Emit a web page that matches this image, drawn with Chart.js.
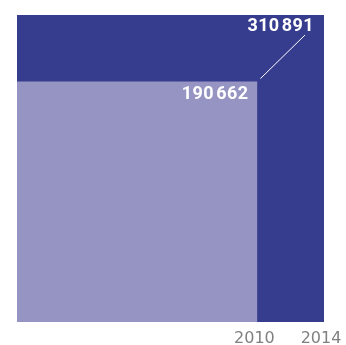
<!DOCTYPE html>
<html>
<head>
<meta charset="utf-8">
<script src="https://cdn.jsdelivr.net/npm/chart.js@4/dist/chart.umd.min.js"></script>
<style>
  html, body { margin: 0; padding: 0; background: #fff; }
  #wrap { width: 346px; height: 345px; }
</style>
</head>
<body>
<div id="wrap"><canvas id="squaresChart" width="346" height="345"></canvas></div>
<script>
const years = ['2010', '2014'];
const values = [190662, 310891];
const valueLabels = ['190\u200A662', '310\u200A891'];
const colors = ['#9594c2', '#363d8f'];

// side of each square is proportional to sqrt(value)
const sides = values.map(v => Math.sqrt(v));
const maxSide = Math.max(...sides);

const squareLabels = {
    id: 'squareLabels',
    afterDatasetsDraw(chart) {
        const { ctx, scales: { x, y } } = chart;
        ctx.save();
        ctx.fillStyle = '#fff';
        ctx.font = 'bold 18px Roboto';
        ctx.letterSpacing = '0.4px';
        ctx.textAlign = 'right';
        ctx.textBaseline = 'alphabetic';
        const offs = [[-9, 17.5], [-10, 16]];
        sides.forEach((s, i) => {
            const px = x.getPixelForValue(s);
            const py = y.getPixelForValue(s);
            ctx.fillText(valueLabels[i], px + offs[i][0], py + offs[i][1]);
        });
        // leader line from small square corner to the big label
        const cx = x.getPixelForValue(sides[0]);
        const cy = y.getPixelForValue(sides[0]);
        const bx = x.getPixelForValue(sides[1]);
        const by = y.getPixelForValue(sides[1]);
        ctx.strokeStyle = '#fff';
        ctx.lineWidth = 1;
        ctx.beginPath();
        ctx.moveTo(cx + 3, cy - 3);
        ctx.lineTo(bx - 19, by + 20);
        ctx.stroke();
        ctx.restore();
    }
};

const ctx = document.getElementById('squaresChart').getContext('2d');
new Chart(ctx, {
    type: 'scatter',
    data: {
        datasets: sides.map((s, i) => ({
            label: years[i],
            data: [{ x: 0, y: s }, { x: s, y: s }],
            showLine: true,
            fill: 'origin',
            backgroundColor: colors[i],
            borderWidth: 0,
            pointRadius: 0,
            order: i + 1
        }))
    },
    options: {
        responsive: false,
        animation: false,
        layout: { padding: { left: 17, top: 15, right: 22, bottom: 0 } },
        plugins: {
            legend: { display: false },
            tooltip: { enabled: false }
        },
        scales: {
            x: {
                type: 'linear',
                min: 0,
                max: maxSide,
                grid: { display: false, drawTicks: false },
                border: { display: false },
                afterBuildTicks: scale => {
                    scale.ticks = sides.map(v => ({ value: v }));
                },
                afterFit: scale => {
                    scale.height = 23;
                    scale.paddingLeft = 0;
                    scale.paddingRight = 0;
                },
                ticks: {
                    autoSkip: false,
                    maxRotation: 0,
                    padding: 9,
                    labelOffset: -3,
                    color: '#808080',
                    font: { family: 'DejaVu Sans', size: 16, lineHeight: 1 },
                    callback: (val, i) => years[i]
                }
            },
            y: {
                display: false,
                min: 0,
                max: maxSide
            }
        }
    },
    plugins: [squareLabels]
});
</script>
</body>
</html>
